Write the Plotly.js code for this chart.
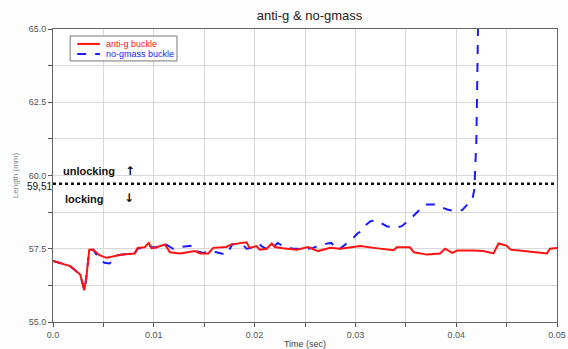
<!DOCTYPE html>
<html><head><meta charset="utf-8">
<script src="https://cdn.plot.ly/plotly-3.0.1.min.js"></script>
<style>html,body{margin:0;padding:0;background:#fff;}#chart{width:568px;height:349px;}</style>
</head><body><div id="chart"></div>
<script>
const antiG_t = [0,0.0017,0.0027,0.0031,0.0033,0.0036,0.004,0.0046,0.0053,0.0061,0.0069,0.0081,0.0084,0.0091,0.0095,0.0098,0.0103,0.0111,0.0116,0.0126,0.0136,0.0141,0.0146,0.0154,0.0159,0.0172,0.0177,0.0185,0.0192,0.0195,0.0202,0.0205,0.0212,0.0217,0.022,0.0228,0.0242,0.0253,0.0263,0.0275,0.0285,0.0298,0.0305,0.0318,0.0334,0.0338,0.0341,0.0354,0.0358,0.0371,0.0384,0.0389,0.0396,0.0401,0.0417,0.0427,0.0437,0.0442,0.045,0.0454,0.0467,0.0483,0.049,0.0493,0.05];
const antiG_len = [57.08,56.91,56.62,56.08,56.5,57.47,57.47,57.28,57.19,57.25,57.30,57.34,57.53,57.55,57.70,57.51,57.55,57.65,57.38,57.34,57.38,57.42,57.34,57.34,57.53,57.56,57.65,57.68,57.72,57.53,57.59,57.47,57.50,57.68,57.56,57.52,57.47,57.56,57.42,57.53,57.50,57.56,57.59,57.53,57.47,57.45,57.55,57.55,57.38,57.30,57.34,57.50,57.36,57.44,57.44,57.42,57.34,57.68,57.61,57.47,57.42,57.36,57.34,57.50,57.53];
const noGmass_t = [0,0.0017,0.0027,0.0031,0.0033,0.0036,0.004,0.0046,0.0051,0.0056,0.0061,0.0064,0.0069,0.0081,0.0084,0.0091,0.0095,0.0098,0.0103,0.0111,0.0119,0.0126,0.0139,0.0142,0.0149,0.0156,0.0162,0.0172,0.0178,0.0188,0.0192,0.0198,0.0205,0.0208,0.0215,0.0223,0.0228,0.0238,0.0253,0.0258,0.0267,0.0276,0.0283,0.029,0.0298,0.0302,0.0306,0.0311,0.0315,0.0321,0.0326,0.0331,0.0339,0.0346,0.0354,0.0362,0.0369,0.0379,0.0384,0.0391,0.0399,0.0406,0.0411,0.0416,0.0418,0.0419,0.0420,0.0421,0.0422];
const noGmass_len = [57.08,56.91,56.62,56.08,56.5,57.47,57.47,57.15,57.02,57.0,57.13,57.28,57.30,57.34,57.50,57.55,57.62,57.55,57.55,57.67,57.50,57.56,57.61,57.42,57.36,57.42,57.38,57.30,57.65,57.65,57.50,57.53,57.65,57.56,57.45,57.70,57.59,57.50,57.50,57.53,57.65,57.70,57.45,57.65,57.87,58.02,58.10,58.33,58.44,58.47,58.38,58.27,58.21,58.27,58.50,58.78,59.01,59.01,58.95,58.84,58.78,58.82,59.01,59.18,59.52,60.2,61.2,63.5,66.0];
const threshold_t = [0, 0.05];
const threshold_len = [59.72, 59.72];
const seriesNames = ["anti-g buckle", "no-gmass buckle"];
const seriesColors = ['#ff1111', '#1a1aff'];
const yTickVals = [55.0, 57.5, 60.0, 62.5, 65.0];
const yTickText = ["55.0", "57.5", "60.0", "62.5", "65.0"];
const xTickVals = [0, 0.01, 0.02, 0.03, 0.04, 0.05];
const xTickText = ["0.0", "0.01", "0.02", "0.03", "0.04", "0.05"];

const traces = [
  {x: threshold_t, y: threshold_len, mode: 'lines', showlegend: false, hoverinfo: 'skip',
   line: {color: '#111', width: 2.5, dash: 'dot'}},
  {x: noGmass_t, y: noGmass_len, mode: 'lines', name: seriesNames[1], showlegend: false,
   line: {color: seriesColors[1], width: 2, dash: 'dash'}},
  {x: antiG_t, y: antiG_len, mode: 'lines', name: seriesNames[0], showlegend: false,
   line: {color: seriesColors[0], width: 2}}
];

// legend geometry (paper coords)
const lgX0 = 0.034, lgX1 = 0.246, lgY0 = 0.891, lgY1 = 0.976;
const rowY = [0.949, 0.915];
const shapes = [
  {type: 'rect', xref: 'paper', yref: 'paper', x0: lgX0, x1: lgX1, y0: lgY0, y1: lgY1,
   line: {color: '#777', width: 1}, fillcolor: '#ffffff', layer: 'above'},
  {type: 'line', xref: 'paper', yref: 'paper', x0: 0.048, x1: 0.093, y0: rowY[0], y1: rowY[0],
   line: {color: seriesColors[0], width: 2}, layer: 'above'},
  {type: 'line', xref: 'paper', yref: 'paper', x0: 0.048, x1: 0.093, y0: rowY[1], y1: rowY[1],
   line: {color: seriesColors[1], width: 2, dash: 'dash'}, layer: 'above'}
];

const gridC = '#d9d9d9';
const layout = {
  width: 568, height: 349, showlegend: false,
  paper_bgcolor: '#fdfdfd', plot_bgcolor: '#ffffff',
  margin: {l: 53, r: 11, t: 29, b: 27},
  font: {family: 'Arial, Liberation Sans, sans-serif', size: 9, color: '#555'},
  title: {text: 'anti-g & no-gmass', x: 0.545, xanchor: 'center', y: 0.955, yanchor: 'middle',
          font: {family: 'Arial, Liberation Sans, sans-serif', size: 13, color: '#222'}},
  xaxis: {range: [0, 0.05], tickvals: xTickVals, ticktext: xTickText, ticks: 'outside', ticklen: 4,
          tickcolor: '#555', showgrid: true, gridcolor: gridC, zeroline: false,
          showline: true, linecolor: '#666', linewidth: 1, mirror: true,
          minor: {dtick: 0.005, tick0: 0, ticks: 'outside', ticklen: 4, tickcolor: '#555', showgrid: true, gridcolor: gridC},
          tickfont: {size: 9, color: '#555'},
          title: {text: 'Time (sec)', font: {size: 9, color: '#444'}, standoff: 2}},
  yaxis: {range: [55, 65], tickvals: yTickVals, ticktext: yTickText, ticks: 'outside', ticklen: 4,
          tickcolor: '#555', showgrid: true, gridcolor: gridC, zeroline: false,
          showline: true, linecolor: '#666', linewidth: 1, mirror: true,
          minor: {dtick: 1.25, tick0: 55, ticks: 'outside', ticklen: 4, tickcolor: '#555', showgrid: true, gridcolor: gridC},
          tickfont: {size: 9, color: '#555'},
          title: {text: 'Length (mm)', font: {size: 8, color: '#888'}, standoff: 8}},
  shapes: shapes,
  annotations: [
    {xref: 'paper', yref: 'paper', x: 0.101, y: rowY[0], xanchor: 'left', yanchor: 'middle',
     text: seriesNames[0], showarrow: false, font: {size: 9, color: seriesColors[0]}},
    {xref: 'paper', yref: 'paper', x: 0.101, y: rowY[1], xanchor: 'left', yanchor: 'middle',
     text: seriesNames[1], showarrow: false, font: {size: 9, color: seriesColors[1]}},
    {xref: 'paper', yref: 'paper', x: -0.055, y: (59.72 - 55) / 10 - 0.01, xanchor: 'left', yanchor: 'middle',
     text: '59,51', showarrow: false, font: {size: 10, color: '#111'}},
    {xref: 'paper', yref: 'paper', x: 0.015, y: 0.515, xanchor: 'left', yanchor: 'middle',
     text: '<b>unlocking</b>', showarrow: false, font: {size: 11, color: '#111'}},
    {xref: 'paper', yref: 'paper', x: 0.138, y: 0.517, xanchor: 'left', yanchor: 'middle',
     text: '<b>↑</b>', showarrow: false, font: {family: 'DejaVu Sans', size: 12, color: '#111'}},
    {xref: 'paper', yref: 'paper', x: 0.02, y: 0.42, xanchor: 'left', yanchor: 'middle',
     text: '<b>locking</b>', showarrow: false, font: {size: 11, color: '#111'}},
    {xref: 'paper', yref: 'paper', x: 0.136, y: 0.422, xanchor: 'left', yanchor: 'middle',
     text: '<b>↓</b>', showarrow: false, font: {family: 'DejaVu Sans', size: 12, color: '#111'}}
  ]
};
Plotly.newPlot('chart', traces, layout, {displayModeBar: false, staticPlot: true});
</script></body></html>
